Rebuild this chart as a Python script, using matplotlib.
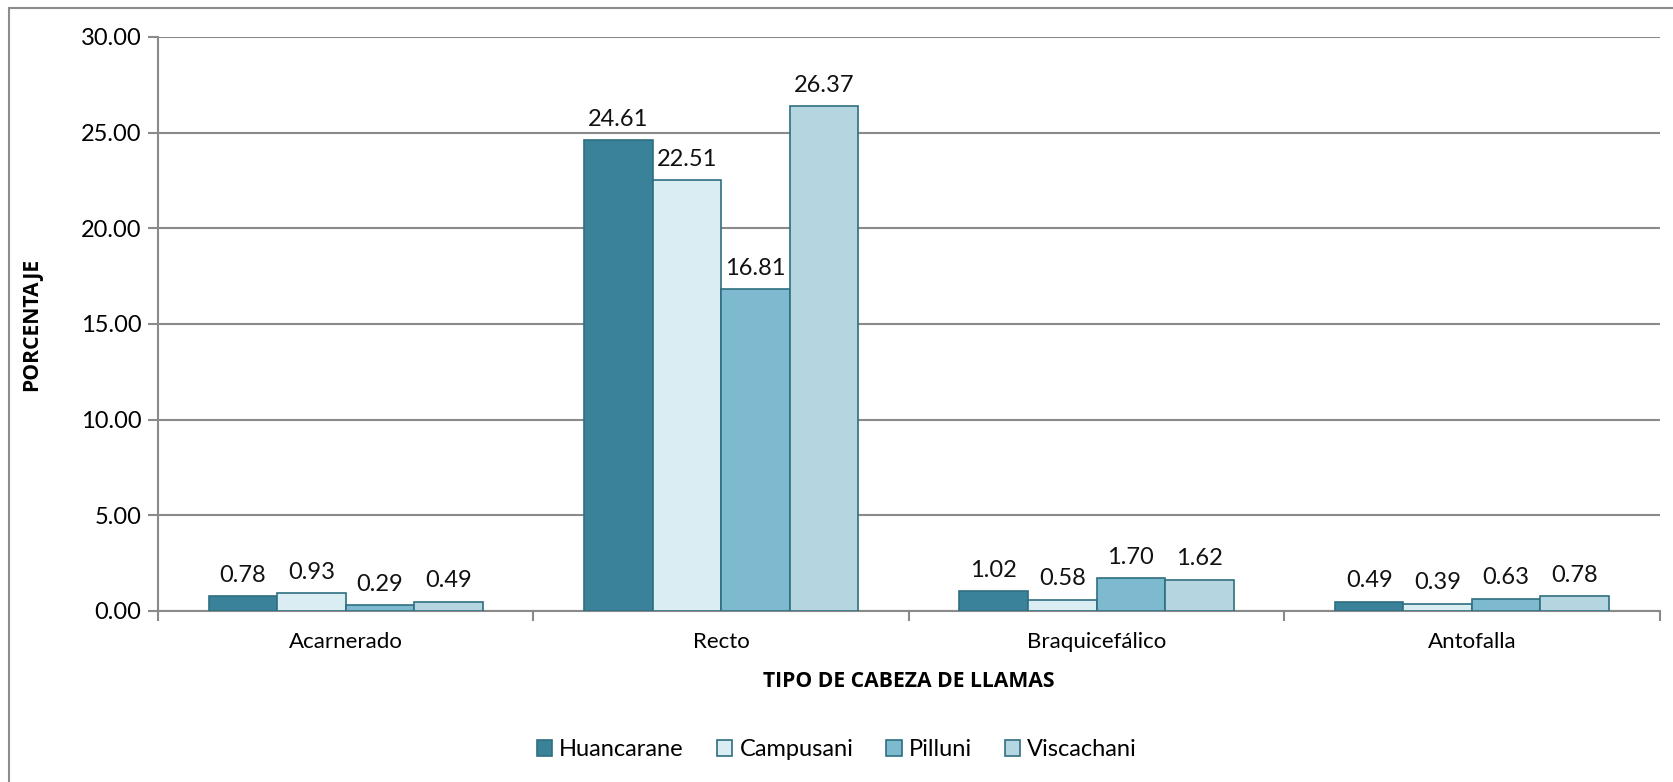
import matplotlib
matplotlib.use("Agg")
import matplotlib.pyplot as plt
import numpy as np
from matplotlib.patches import Rectangle

categories = ["Acarnerado", "Recto", "Braquicefálico", "Antofalla"]
series_names = ["Huancarane", "Campusani", "Pilluni", "Viscachani"]
huancarane = [0.78, 24.61, 1.02, 0.49]
campusani = [0.93, 22.51, 0.58, 0.39]
pilluni = [0.29, 16.81, 1.70, 0.63]
viscachani = [0.49, 26.37, 1.62, 0.78]
yticks = [0, 5, 10, 15, 20, 25, 30]

colors = ["#3A8299", "#DAEDF3", "#7DB9CF", "#B5D5E0"]
edge = "#2F6E80"

plt.rcParams['font.family'] = ['Lato', 'DejaVu Sans']

fig = plt.figure(figsize=(16.74, 7.82), dpi=100)
ax = fig.add_axes([0.0944, 0.2187, 0.897, 0.734])

fig.patches.append(Rectangle((9/1674, -0.1), 1.2, 1 - 8/782 + 0.1, transform=fig.transFigure,
                             fill=False, edgecolor="#8C8C8C", linewidth=1.5, clip_on=False))

x = np.arange(len(categories))
w = 0.1825
data = [huancarane, campusani, pilluni, viscachani]
for i, (name, vals) in enumerate(zip(series_names, data)):
    pos = x + (i - 1.5) * w
    bars = ax.bar(pos, vals, width=w, color=colors[i], edgecolor=edge, linewidth=1.2, label=name, zorder=3)
    for b, v in zip(bars, vals):
        ax.text(b.get_x() + b.get_width() / 2, v + 0.55, f"{v:.2f}", ha="center", va="bottom",
                fontsize=17, color="#111111", zorder=4)

ax.set_xlim(-0.5, len(categories) - 0.5)
ax.set_ylim(0, 30)
ax.set_yticks(yticks)
ax.set_yticklabels([f"{t:.2f}" for t in yticks], fontsize=17)
ax.yaxis.grid(True, color="#8A8A8A", linewidth=1.5, zorder=0)
ax.set_axisbelow(True)

ax.set_xticks(x)
ax.set_xticklabels(categories, fontsize=16)
ax.tick_params(axis='x', length=0, pad=15)
ax.set_xticks(np.arange(-0.5, len(categories)), minor=True)
ax.tick_params(axis='x', which='minor', length=7, color="#8A8A8A", width=1.5, direction='out')
ax.tick_params(axis='y', length=7, color="#8A8A8A", width=1.5, direction='out', pad=5)

for s in ["top", "right"]:
    ax.spines[s].set_visible(False)
ax.spines["left"].set_color("#8A8A8A")
ax.spines["left"].set_linewidth(1.5)
ax.spines["bottom"].set_color("#8A8A8A")
ax.spines["bottom"].set_linewidth(1.5)

ax.set_ylabel("PORCENTAJE", fontsize=15.2, fontweight="bold", labelpad=28,
              family=['Open Sans', 'DejaVu Sans'])
ax.set_xlabel("TIPO DE CABEZA DE LLAMAS", fontsize=15.2, fontweight="bold", labelpad=14,
              family=['Open Sans', 'DejaVu Sans'])

leg = fig.legend(loc="center", bbox_to_anchor=(0.5, 1 - 750/782), ncol=4, frameon=False,
                 fontsize=17, handlelength=0.65, handleheight=0.65, handletextpad=0.3,
                 columnspacing=1.4)

fig.savefig("out.png", dpi=100, facecolor="white")
